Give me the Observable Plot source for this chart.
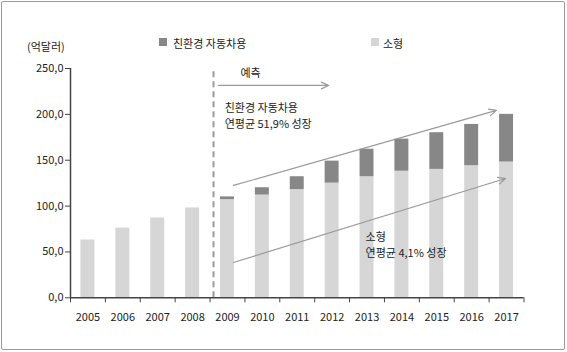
<!DOCTYPE html>
<html>
<head>
<meta charset="utf-8">
<script src="https://cdn.jsdelivr.net/npm/d3@7"></script>
<script src="https://cdn.jsdelivr.net/npm/@observablehq/plot@0.6"></script>
<style>
  html, body { margin: 0; padding: 0; background: #fff; }
  #wrap { position: relative; width: 567px; height: 352px; font-family: "Noto Sans CJK KR", "Noto Sans", sans-serif; color: #222; overflow: hidden; }
  #border { position: absolute; left: 1px; top: 1px; width: 562px; height: 347px; border: 1.5px solid #9a9a9a; border-radius: 2px; pointer-events: none; }
  .lg { position: absolute; font-size: 11px; line-height: 14px; white-space: nowrap; }
  .sw { position: absolute; width: 8px; height: 8px; }
  #chart { position: absolute; left: 0; top: 0; }
</style>
</head>
<body>
<div id="wrap">
  <div class="lg" style="left:27px; top:39px;">(억달러)</div>
  <div class="sw" style="left:159px; top:38px; background:#878787;"></div>
  <div class="lg" style="left:173px; top:36px;">친환경 자동차용</div>
  <div class="sw" style="left:371px; top:38px; background:#d6d6d6;"></div>
  <div class="lg" style="left:383px; top:36px;">소형</div>
  <div id="chart"></div>
  <div id="border"></div>
</div>
<script>
// ---- data ----
const years = [2005, 2006, 2007, 2008, 2009, 2010, 2011, 2012, 2013, 2014, 2015, 2016, 2017];
const small = [63, 76, 87, 98, 107, 112, 118, 125, 132, 138, 140, 144, 148];
const eco   = [0, 0, 0, 0, 3, 8, 14, 24, 30, 35, 40, 45, 52];
const yTicks = [0, 50, 100, 150, 200, 250];
const seriesNames = ["소형", "친환경 자동차용"];
const forecastStart = 2008.6;
const arrows = [
  {x1: 2008.74, y1: 231.5, x2: 2011.9, y2: 231.5},
  {x1: 2009.17, y1: 122.5, x2: 2016.71, y2: 204.3},
  {x1: 2009.17, y1: 38.5, x2: 2016.97, y2: 130.1}
];
const notes = [
  {x: 2009.37, y: 244.6, text: "예측"},
  {x: 2008.92, y: 206.5, text: "친환경 자동차용"},
  {x: 2008.92, y: 189.5, text: "연평균 51,9% 성장"},
  {x: 2012.96, y: 66.1, text: "소형"},
  {x: 2012.96, y: 48.6, text: "연평균 4,1% 성장"}
];

// ---- table ----
const rows = [];
years.forEach((yr, i) => {
  rows.push({year: yr, series: seriesNames[0], y1: 0, y2: small[i]});
  if (eco[i] > 0) rows.push({year: yr, series: seriesNames[1], y1: small[i], y2: small[i] + eco[i]});
});
const half = 0.2;
const xDomain = [years[0] - 0.5, years[years.length - 1] + 0.5];
const boundaries = d3.range(xDomain[0], xDomain[1] + 0.01, 1);
const font = '"Noto Sans CJK KR", "Noto Sans", sans-serif';

const chart = Plot.plot({
  width: 567,
  height: 352,
  marginLeft: 70,
  marginRight: 43.5,
  marginTop: 68,
  marginBottom: 54.7,
  style: {fontFamily: font, fontSize: "11px", color: "#222", background: "transparent"},
  x: {type: "linear", domain: xDomain},
  y: {domain: [0, 250]},
  color: {domain: seriesNames, range: ["#d6d6d6", "#878787"]},
  marks: [
    Plot.rectY(rows, {x1: d => d.year - half, x2: d => d.year + half, y1: "y1", y2: "y2", fill: "series"}),
    Plot.ruleX([forecastStart], {y1: 0, y2: 249, stroke: "#9a9a9a", strokeWidth: 2, strokeDasharray: "6,4"}),
    Plot.arrow(arrows, {x1: "x1", y1: "y1", x2: "x2", y2: "y2", stroke: "#9a9a9a", strokeWidth: 1.2, headAngle: 50, headLength: 10}),
    Plot.text(notes, {x: "x", y: "y", text: "text", textAnchor: "start", fontSize: 11, fill: "#222", fontFamily: font}),
    Plot.ruleX([xDomain[0]], {y1: 0, y2: 250, stroke: "#444", strokeWidth: 1.5}),
    Plot.ruleY([0], {x1: xDomain[0], x2: xDomain[1], stroke: "#444", strokeWidth: 1.5}),
    Plot.axisY({ticks: yTicks, tickSize: 5, tickPadding: 2, tickFormat: d => d.toFixed(1).replace(".", ","), label: null, stroke: "#444", fontSize: 11}),
    Plot.axisX({ticks: boundaries, tickSize: 5, tickFormat: () => "", label: null, stroke: "#444"}),
    Plot.axisX({ticks: years, tickSize: 0, tickPadding: 15, tickFormat: d => String(d), label: null, fontSize: 11})
  ]
});
document.getElementById("chart").appendChild(chart);
</script>
</body>
</html>
